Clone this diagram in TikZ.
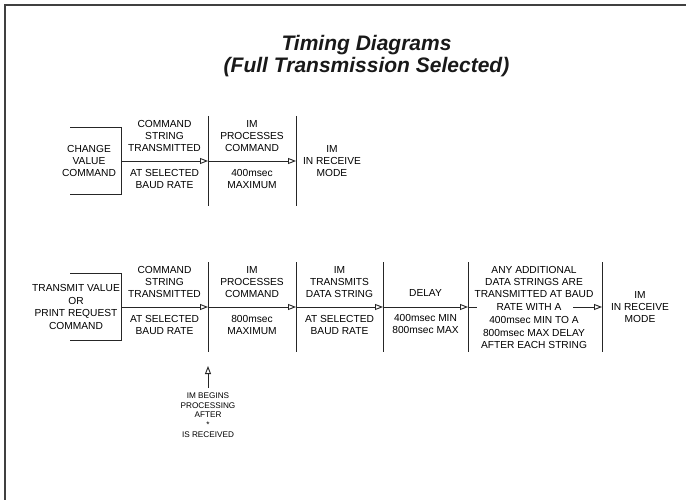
\documentclass[tikz,border=0pt]{standalone}
\usepackage{fontspec}
\setmainfont{Liberation Sans}
\usetikzlibrary{arrows.meta}
\begin{document}
\begin{tikzpicture}[x=1pt,y=-1pt,
  lbl/.style={inner sep=0pt, align=center, text=black, font=\fontsize{10.2}{12.4}\selectfont},
  sml/.style={inner sep=0pt, align=center, text=black, font=\fontsize{8.2}{9.8}\selectfont},
  ttl/.style={inner sep=0pt, anchor=base, text=black!90, font=\fontsize{21}{20}\selectfont\bfseries\itshape},
  wire/.style={line width=0.9pt, draw=black!85},
  flow/.style={wire, -{Triangle[open,length=8pt,width=6pt]}},
  frameline/.style={line width=1.6pt, draw=black!75}]
\useasboundingbox (0,0) rectangle (686,500);

% frame
\coordinate (fbl) at (5,500);
\coordinate (ftl) at (5,5);
\coordinate (ftr) at (686,5);
\draw[frameline] (fbl) -- (ftl) -- (ftr);

% title
\node[ttl] (title1) at (366.5,51) {Timing Diagrams};
\node[ttl] (title2) at (366.5,72.5) {(Full Transmission Selected)};

% ---------------- Diagram 1 ----------------
\coordinate (d1b1) at (70,127);
\coordinate (d1b2) at (121,127);
\coordinate (d1b3) at (121,194);
\coordinate (d1b4) at (70,194);
\draw[wire] (d1b1) -- (d1b2) -- (d1b3) -- (d1b4);

\coordinate (d1s) at (121,161);
\coordinate (d1p) at (208,161);
\coordinate (d1r) at (296,161);
\coordinate (d1pt) at (208,116);
\coordinate (d1pb) at (208,206);
\coordinate (d1rt) at (296,116);
\coordinate (d1rb) at (296,206);
\draw[wire] (d1pt) -- (d1pb);
\draw[wire] (d1rt) -- (d1rb);
\draw[flow] (d1s) -- (d1p);
\draw[flow] (d1p) -- (d1r);

\node[lbl] (d1src) at (89,161) {CHANGE\\VALUE\\COMMAND};
\node[lbl] (d1c1t) at (164.5,136) {COMMAND\\STRING\\TRANSMITTED};
\node[lbl] (d1c1b) at (164.5,179) {AT SELECTED\\BAUD RATE};
\node[lbl] (d1c2t) at (252,136) {IM\\PROCESSES\\COMMAND};
\node[lbl] (d1c2b) at (252,179) {400msec\\MAXIMUM};
\node[lbl] (d1rcv) at (332,161) {IM\\IN RECEIVE\\MODE};

% ---------------- Diagram 2 ----------------
\coordinate (d2b1) at (70,273);
\coordinate (d2b2) at (121,273);
\coordinate (d2b3) at (121,340);
\coordinate (d2b4) at (70,340);
\draw[wire] (d2b1) -- (d2b2) -- (d2b3) -- (d2b4);

\coordinate (d2s) at (121,307);
\coordinate (d2a) at (208,307);
\coordinate (d2b) at (296,307);
\coordinate (d2c) at (383,307);
\coordinate (d2d) at (468,307);
\coordinate (d2e) at (602,307);
\foreach \n/\x in {a/208,b/296,c/383,d/468,e/602}{
  \coordinate (d2\n t) at (\x,262);
  \coordinate (d2\n b) at (\x,352);
  \draw[wire] (d2\n t) -- (d2\n b);
}
\draw[flow] (d2s) -- (d2a);
\draw[flow] (d2a) -- (d2b);
\draw[flow] (d2b) -- (d2c);
\draw[flow] (d2c) -- (d2d);
\coordinate (rl) at (477,307);
\coordinate (rr) at (573,307);
\draw[wire] (d2d) -- (rl);
\draw[flow] (rr) -- (d2e);

\node[lbl] (d2src) at (76,307) {TRANSMIT VALUE\\OR\\PRINT REQUEST\\COMMAND};
\node[lbl] (d2c1t) at (164.5,282) {COMMAND\\STRING\\TRANSMITTED};
\node[lbl] (d2c1b) at (164.5,325) {AT SELECTED\\BAUD RATE};
\node[lbl] (d2c2t) at (252,282) {IM\\PROCESSES\\COMMAND};
\node[lbl] (d2c2b) at (252,325) {800msec\\MAXIMUM};
\node[lbl] (d2c3t) at (339.5,282) {IM\\TRANSMITS\\DATA STRING};
\node[lbl] (d2c3b) at (339.5,325) {AT SELECTED\\BAUD RATE};
\node[lbl] (d2c4t) at (425.5,293) {DELAY};
\node[lbl] (d2c4b) at (425.5,324) {400msec MIN\\800msec MAX};
\node[lbl] (d2c5t) at (534,282) {ANY ADDITIONAL\\DATA STRINGS ARE\\TRANSMITTED AT BAUD};
\node[lbl] (d2c5m) at (529,307) {RATE WITH A};
\node[lbl] (d2c5b) at (534,332.5) {400msec MIN TO A\\800msec MAX DELAY\\AFTER EACH STRING};
\node[lbl] (d2rcv) at (640,307) {IM\\IN RECEIVE\\MODE};

% note arrow
\coordinate (upb) at (208,388);
\coordinate (upt) at (208,366);
\draw[flow] (upb) -- (upt);
\node[sml] (note) at (208,415) {IM BEGINS\\PROCESSING\\AFTER\\*\\IS RECEIVED};
\end{tikzpicture}
\end{document}
